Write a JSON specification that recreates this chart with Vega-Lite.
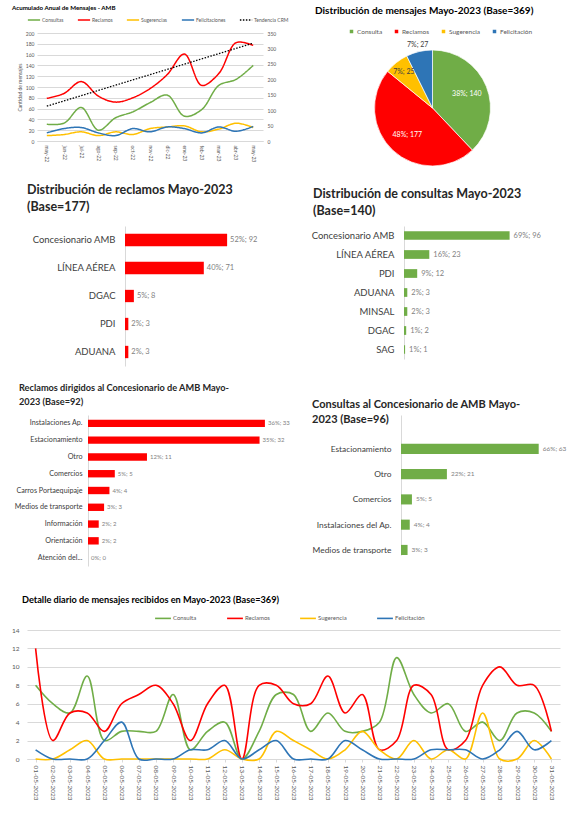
{
  "$schema": "https://vega.github.io/schema/vega-lite/v6.json",
  "padding": {"left": 0, "top": 4, "right": 0, "bottom": 0},
  "background": "white",
  "spacing": 0,
  "config": {"font": "Lato", "view": {"stroke": null}},
  "resolve": {"scale": {"color": "independent", "strokeDash": "independent"}, "legend": {"color": "independent", "strokeDash": "independent"}},
  "datasets": {
    "anual": [
      {"mes": "may-22", "serie": "Consultas", "valor": 31}, {"mes": "jun-22", "serie": "Consultas", "valor": 33}, {"mes": "jul-22", "serie": "Consultas", "valor": 62}, {"mes": "ago-22", "serie": "Consultas", "valor": 20}, {"mes": "sep-22", "serie": "Consultas", "valor": 43}, {"mes": "oct-22", "serie": "Consultas", "valor": 54}, {"mes": "nov-22", "serie": "Consultas", "valor": 71}, {"mes": "dic-22", "serie": "Consultas", "valor": 85}, {"mes": "ene-23", "serie": "Consultas", "valor": 46}, {"mes": "feb-23", "serie": "Consultas", "valor": 58}, {"mes": "mar-23", "serie": "Consultas", "valor": 103}, {"mes": "abr-23", "serie": "Consultas", "valor": 114}, {"mes": "may-23", "serie": "Consultas", "valor": 140},
      {"mes": "may-22", "serie": "Reclamos", "valor": 79}, {"mes": "jun-22", "serie": "Reclamos", "valor": 88}, {"mes": "jul-22", "serie": "Reclamos", "valor": 110}, {"mes": "ago-22", "serie": "Reclamos", "valor": 83}, {"mes": "sep-22", "serie": "Reclamos", "valor": 72}, {"mes": "oct-22", "serie": "Reclamos", "valor": 80}, {"mes": "nov-22", "serie": "Reclamos", "valor": 97}, {"mes": "dic-22", "serie": "Reclamos", "valor": 123}, {"mes": "ene-23", "serie": "Reclamos", "valor": 161}, {"mes": "feb-23", "serie": "Reclamos", "valor": 103}, {"mes": "mar-23", "serie": "Reclamos", "valor": 125}, {"mes": "abr-23", "serie": "Reclamos", "valor": 182}, {"mes": "may-23", "serie": "Reclamos", "valor": 177},
      {"mes": "may-22", "serie": "Sugerencias", "valor": 10}, {"mes": "jun-22", "serie": "Sugerencias", "valor": 12}, {"mes": "jul-22", "serie": "Sugerencias", "valor": 17}, {"mes": "ago-22", "serie": "Sugerencias", "valor": 10}, {"mes": "sep-22", "serie": "Sugerencias", "valor": 17}, {"mes": "oct-22", "serie": "Sugerencias", "valor": 12}, {"mes": "nov-22", "serie": "Sugerencias", "valor": 23}, {"mes": "dic-22", "serie": "Sugerencias", "valor": 26}, {"mes": "ene-23", "serie": "Sugerencias", "valor": 28}, {"mes": "feb-23", "serie": "Sugerencias", "valor": 17}, {"mes": "mar-23", "serie": "Sugerencias", "valor": 22}, {"mes": "abr-23", "serie": "Sugerencias", "valor": 33}, {"mes": "may-23", "serie": "Sugerencias", "valor": 25},
      {"mes": "may-22", "serie": "Felicitaciones", "valor": 15}, {"mes": "jun-22", "serie": "Felicitaciones", "valor": 23}, {"mes": "jul-22", "serie": "Felicitaciones", "valor": 25}, {"mes": "ago-22", "serie": "Felicitaciones", "valor": 15}, {"mes": "sep-22", "serie": "Felicitaciones", "valor": 10}, {"mes": "oct-22", "serie": "Felicitaciones", "valor": 23}, {"mes": "nov-22", "serie": "Felicitaciones", "valor": 17}, {"mes": "dic-22", "serie": "Felicitaciones", "valor": 26}, {"mes": "ene-23", "serie": "Felicitaciones", "valor": 23}, {"mes": "feb-23", "serie": "Felicitaciones", "valor": 15}, {"mes": "mar-23", "serie": "Felicitaciones", "valor": 26}, {"mes": "abr-23", "serie": "Felicitaciones", "valor": 18}, {"mes": "may-23", "serie": "Felicitaciones", "valor": 27}
    ],
    "tendencia": [
      {"mes": "may-22", "serie": "Tendencia CRM", "valor": 113},
      {"mes": "may-23", "serie": "Tendencia CRM", "valor": 317}
    ],
    "pie": [
      {"cat": "Consulta", "orden": 1, "n": 140, "label": "38%; 140"},
      {"cat": "Reclamos", "orden": 2, "n": 177, "label": "48%; 177"},
      {"cat": "Sugerencia", "orden": 3, "n": 25, "label": "7%; 25"},
      {"cat": "Felicitación", "orden": 4, "n": 27, "label": "7%; 27"}
    ],
    "reclamos": [
      {"cat": "Concesionario AMB", "n": 92, "label": "52%; 92"},
      {"cat": "LÍNEA AÉREA", "n": 71, "label": "40%; 71"},
      {"cat": "DGAC", "n": 8, "label": "5%; 8"},
      {"cat": "PDI", "n": 3, "label": "2%; 3"},
      {"cat": "ADUANA", "n": 3, "label": "2%, 3"}
    ],
    "consultas": [
      {"cat": "Concesionario AMB", "n": 96, "label": "69%; 96"},
      {"cat": "LÍNEA AÉREA", "n": 23, "label": "16%; 23"},
      {"cat": "PDI", "n": 12, "label": "9%; 12"},
      {"cat": "ADUANA", "n": 3, "label": "2%; 3"},
      {"cat": "MINSAL", "n": 3, "label": "2%; 3"},
      {"cat": "DGAC", "n": 2, "label": "1%; 2"},
      {"cat": "SAG", "n": 1, "label": "1%; 1"}
    ],
    "reclamosAMB": [
      {"cat": "Instalaciones Ap.", "n": 33, "label": "36%; 33"},
      {"cat": "Estacionamiento", "n": 32, "label": "35%; 32"},
      {"cat": "Otro", "n": 11, "label": "12%; 11"},
      {"cat": "Comercios", "n": 5, "label": "5%; 5"},
      {"cat": "Carros Portaequipaje", "n": 4, "label": "4%; 4"},
      {"cat": "Medios de transporte", "n": 3, "label": "3%; 3"},
      {"cat": "Información", "n": 2, "label": "2%; 2"},
      {"cat": "Orientación", "n": 2, "label": "2%; 2"},
      {"cat": "Atención del...", "n": 0, "label": "0%; 0"}
    ],
    "consultasAMB": [
      {"cat": "Estacionamiento", "n": 63, "label": "66%; 63"},
      {"cat": "Otro", "n": 21, "label": "22%; 21"},
      {"cat": "Comercios", "n": 5, "label": "5%; 5"},
      {"cat": "Instalaciones del Ap.", "n": 4, "label": "4%; 4"},
      {"cat": "Medios de transporte", "n": 3, "label": "3%; 3"}
    ],
    "diario": [
      {"fecha": "01-05-2023", "serie": "Consulta", "valor": 8}, {"fecha": "02-05-2023", "serie": "Consulta", "valor": 6}, {"fecha": "03-05-2023", "serie": "Consulta", "valor": 5}, {"fecha": "04-05-2023", "serie": "Consulta", "valor": 9}, {"fecha": "05-05-2023", "serie": "Consulta", "valor": 2}, {"fecha": "06-05-2023", "serie": "Consulta", "valor": 3}, {"fecha": "07-05-2023", "serie": "Consulta", "valor": 3}, {"fecha": "08-05-2023", "serie": "Consulta", "valor": 3}, {"fecha": "09-05-2023", "serie": "Consulta", "valor": 7}, {"fecha": "10-05-2023", "serie": "Consulta", "valor": 1}, {"fecha": "11-05-2023", "serie": "Consulta", "valor": 3}, {"fecha": "12-05-2023", "serie": "Consulta", "valor": 4}, {"fecha": "13-05-2023", "serie": "Consulta", "valor": 0}, {"fecha": "14-05-2023", "serie": "Consulta", "valor": 3}, {"fecha": "15-05-2023", "serie": "Consulta", "valor": 7}, {"fecha": "16-05-2023", "serie": "Consulta", "valor": 7}, {"fecha": "17-05-2023", "serie": "Consulta", "valor": 3}, {"fecha": "18-05-2023", "serie": "Consulta", "valor": 5}, {"fecha": "19-05-2023", "serie": "Consulta", "valor": 3}, {"fecha": "20-05-2023", "serie": "Consulta", "valor": 3}, {"fecha": "21-05-2023", "serie": "Consulta", "valor": 4}, {"fecha": "22-05-2023", "serie": "Consulta", "valor": 11}, {"fecha": "23-05-2023", "serie": "Consulta", "valor": 7}, {"fecha": "24-05-2023", "serie": "Consulta", "valor": 5}, {"fecha": "25-05-2023", "serie": "Consulta", "valor": 6}, {"fecha": "26-05-2023", "serie": "Consulta", "valor": 3}, {"fecha": "27-05-2023", "serie": "Consulta", "valor": 4}, {"fecha": "28-05-2023", "serie": "Consulta", "valor": 2}, {"fecha": "29-05-2023", "serie": "Consulta", "valor": 5}, {"fecha": "30-05-2023", "serie": "Consulta", "valor": 5}, {"fecha": "31-05-2023", "serie": "Consulta", "valor": 3},
      {"fecha": "01-05-2023", "serie": "Reclamos", "valor": 12}, {"fecha": "02-05-2023", "serie": "Reclamos", "valor": 2}, {"fecha": "03-05-2023", "serie": "Reclamos", "valor": 5}, {"fecha": "04-05-2023", "serie": "Reclamos", "valor": 5}, {"fecha": "05-05-2023", "serie": "Reclamos", "valor": 3}, {"fecha": "06-05-2023", "serie": "Reclamos", "valor": 6}, {"fecha": "07-05-2023", "serie": "Reclamos", "valor": 7}, {"fecha": "08-05-2023", "serie": "Reclamos", "valor": 8}, {"fecha": "09-05-2023", "serie": "Reclamos", "valor": 6}, {"fecha": "10-05-2023", "serie": "Reclamos", "valor": 2}, {"fecha": "11-05-2023", "serie": "Reclamos", "valor": 6}, {"fecha": "12-05-2023", "serie": "Reclamos", "valor": 8}, {"fecha": "13-05-2023", "serie": "Reclamos", "valor": 0}, {"fecha": "14-05-2023", "serie": "Reclamos", "valor": 8}, {"fecha": "15-05-2023", "serie": "Reclamos", "valor": 8}, {"fecha": "16-05-2023", "serie": "Reclamos", "valor": 6}, {"fecha": "17-05-2023", "serie": "Reclamos", "valor": 6}, {"fecha": "18-05-2023", "serie": "Reclamos", "valor": 9}, {"fecha": "19-05-2023", "serie": "Reclamos", "valor": 5}, {"fecha": "20-05-2023", "serie": "Reclamos", "valor": 7}, {"fecha": "21-05-2023", "serie": "Reclamos", "valor": 1}, {"fecha": "22-05-2023", "serie": "Reclamos", "valor": 2}, {"fecha": "23-05-2023", "serie": "Reclamos", "valor": 8}, {"fecha": "24-05-2023", "serie": "Reclamos", "valor": 7}, {"fecha": "25-05-2023", "serie": "Reclamos", "valor": 1}, {"fecha": "26-05-2023", "serie": "Reclamos", "valor": 2}, {"fecha": "27-05-2023", "serie": "Reclamos", "valor": 8}, {"fecha": "28-05-2023", "serie": "Reclamos", "valor": 10}, {"fecha": "29-05-2023", "serie": "Reclamos", "valor": 8}, {"fecha": "30-05-2023", "serie": "Reclamos", "valor": 8}, {"fecha": "31-05-2023", "serie": "Reclamos", "valor": 3},
      {"fecha": "01-05-2023", "serie": "Sugerencia", "valor": 0}, {"fecha": "02-05-2023", "serie": "Sugerencia", "valor": 0}, {"fecha": "03-05-2023", "serie": "Sugerencia", "valor": 1}, {"fecha": "04-05-2023", "serie": "Sugerencia", "valor": 2}, {"fecha": "05-05-2023", "serie": "Sugerencia", "valor": 0}, {"fecha": "06-05-2023", "serie": "Sugerencia", "valor": 0}, {"fecha": "07-05-2023", "serie": "Sugerencia", "valor": 0}, {"fecha": "08-05-2023", "serie": "Sugerencia", "valor": 0}, {"fecha": "09-05-2023", "serie": "Sugerencia", "valor": 0}, {"fecha": "10-05-2023", "serie": "Sugerencia", "valor": 0}, {"fecha": "11-05-2023", "serie": "Sugerencia", "valor": 0}, {"fecha": "12-05-2023", "serie": "Sugerencia", "valor": 1}, {"fecha": "13-05-2023", "serie": "Sugerencia", "valor": 0}, {"fecha": "14-05-2023", "serie": "Sugerencia", "valor": 0}, {"fecha": "15-05-2023", "serie": "Sugerencia", "valor": 3}, {"fecha": "16-05-2023", "serie": "Sugerencia", "valor": 2}, {"fecha": "17-05-2023", "serie": "Sugerencia", "valor": 1}, {"fecha": "18-05-2023", "serie": "Sugerencia", "valor": 0}, {"fecha": "19-05-2023", "serie": "Sugerencia", "valor": 1}, {"fecha": "20-05-2023", "serie": "Sugerencia", "valor": 3}, {"fecha": "21-05-2023", "serie": "Sugerencia", "valor": 1}, {"fecha": "22-05-2023", "serie": "Sugerencia", "valor": 0}, {"fecha": "23-05-2023", "serie": "Sugerencia", "valor": 2}, {"fecha": "24-05-2023", "serie": "Sugerencia", "valor": 0}, {"fecha": "25-05-2023", "serie": "Sugerencia", "valor": 1}, {"fecha": "26-05-2023", "serie": "Sugerencia", "valor": 0}, {"fecha": "27-05-2023", "serie": "Sugerencia", "valor": 5}, {"fecha": "28-05-2023", "serie": "Sugerencia", "valor": 0}, {"fecha": "29-05-2023", "serie": "Sugerencia", "valor": 0}, {"fecha": "30-05-2023", "serie": "Sugerencia", "valor": 2}, {"fecha": "31-05-2023", "serie": "Sugerencia", "valor": 0},
      {"fecha": "01-05-2023", "serie": "Felicitación", "valor": 1}, {"fecha": "02-05-2023", "serie": "Felicitación", "valor": 0}, {"fecha": "03-05-2023", "serie": "Felicitación", "valor": 0}, {"fecha": "04-05-2023", "serie": "Felicitación", "valor": 0}, {"fecha": "05-05-2023", "serie": "Felicitación", "valor": 2}, {"fecha": "06-05-2023", "serie": "Felicitación", "valor": 4}, {"fecha": "07-05-2023", "serie": "Felicitación", "valor": 0}, {"fecha": "08-05-2023", "serie": "Felicitación", "valor": 0}, {"fecha": "09-05-2023", "serie": "Felicitación", "valor": 0}, {"fecha": "10-05-2023", "serie": "Felicitación", "valor": 1}, {"fecha": "11-05-2023", "serie": "Felicitación", "valor": 1}, {"fecha": "12-05-2023", "serie": "Felicitación", "valor": 2}, {"fecha": "13-05-2023", "serie": "Felicitación", "valor": 0}, {"fecha": "14-05-2023", "serie": "Felicitación", "valor": 1}, {"fecha": "15-05-2023", "serie": "Felicitación", "valor": 2}, {"fecha": "16-05-2023", "serie": "Felicitación", "valor": 0}, {"fecha": "17-05-2023", "serie": "Felicitación", "valor": 0}, {"fecha": "18-05-2023", "serie": "Felicitación", "valor": 0}, {"fecha": "19-05-2023", "serie": "Felicitación", "valor": 2}, {"fecha": "20-05-2023", "serie": "Felicitación", "valor": 1}, {"fecha": "21-05-2023", "serie": "Felicitación", "valor": 0}, {"fecha": "22-05-2023", "serie": "Felicitación", "valor": 0}, {"fecha": "23-05-2023", "serie": "Felicitación", "valor": 0}, {"fecha": "24-05-2023", "serie": "Felicitación", "valor": 1}, {"fecha": "25-05-2023", "serie": "Felicitación", "valor": 1}, {"fecha": "26-05-2023", "serie": "Felicitación", "valor": 1}, {"fecha": "27-05-2023", "serie": "Felicitación", "valor": 0}, {"fecha": "28-05-2023", "serie": "Felicitación", "valor": 1}, {"fecha": "29-05-2023", "serie": "Felicitación", "valor": 3}, {"fecha": "30-05-2023", "serie": "Felicitación", "valor": 1}, {"fecha": "31-05-2023", "serie": "Felicitación", "valor": 2}
    ]
  },
  "vconcat": [
    {
      "spacing": 0, "bounds": "flush",
      "resolve": {"scale": {"color": "independent", "strokeDash": "independent"}, "legend": {"color": "independent", "strokeDash": "independent"}},
      "hconcat": [
        {"width": 37, "height": 150, "data": {"values": []}, "mark": "point"},
        {
          "width": 226, "height": 108,
          "title": {"text": "Acumulado Anual de Mensajes - AMB", "fontSize": 6.2, "fontWeight": "bold", "color": "#000000", "anchor": "start", "frame": "group", "dx": -25, "offset": 2},
          "layer": [
            {
              "data": {"name": "anual"},
              "mark": {"type": "line", "interpolate": "catmull-rom", "strokeWidth": 1.5},
              "encoding": {
                "x": {"field": "mes", "type": "ordinal", "sort": ["may-22","jun-22","jul-22","ago-22","sep-22","oct-22","nov-22","dic-22","ene-23","feb-23","mar-23","abr-23","may-23"], "scale": {"type": "point", "padding": 0.57}, "axis": {"title": null, "labelAngle": 90, "labelFontSize": 5, "labelColor": "#595959", "domainColor": "#D9D9D9", "ticks": false, "labelPadding": 4}},
                "y": {"field": "valor", "type": "quantitative", "scale": {"domain": [0, 200], "nice": false}, "axis": {"values": [0,20,40,60,80,100,120,140,160,180,200], "title": "Cantidad de mensajes", "titleFontSize": 5, "titleFontWeight": "normal", "titleColor": "#595959", "labelFontSize": 5, "labelColor": "#595959", "domain": false, "ticks": false, "gridColor": "#D9D9D9", "labelPadding": 3, "titlePadding": 3}},
                "color": {"field": "serie", "type": "nominal", "scale": {"domain": ["Consultas","Reclamos","Sugerencias","Felicitaciones","Tendencia CRM"], "range": ["#70AD47","#FF0000","#FFC000","#2E75B6","#000000"]}, "legend": {"title": null, "orient": "none", "legendX": -10, "legendY": -20, "direction": "horizontal", "symbolType": "stroke", "symbolStrokeWidth": 1.5, "symbolSize": 150, "labelFontSize": 5, "labelColor": "#595959", "columnPadding": 10, "labelOffset": 1}},
                "strokeDash": {"field": "serie", "type": "nominal", "scale": {"domain": ["Consultas","Reclamos","Sugerencias","Felicitaciones","Tendencia CRM"], "range": [[1,0],[1,0],[1,0],[1,0],[1.5,1.5]]}, "legend": {"title": null, "orient": "none", "legendX": -10, "legendY": -20, "direction": "horizontal", "symbolType": "stroke", "symbolStrokeWidth": 1.5, "symbolSize": 150, "labelFontSize": 5, "labelColor": "#595959", "columnPadding": 10, "labelOffset": 1}}
              }
            },
            {
              "data": {"name": "tendencia"},
              "mark": {"type": "line", "strokeWidth": 1.3},
              "encoding": {
                "x": {"field": "mes", "type": "ordinal", "sort": ["may-22","jun-22","jul-22","ago-22","sep-22","oct-22","nov-22","dic-22","ene-23","feb-23","mar-23","abr-23","may-23"]},
                "y": {"field": "valor", "type": "quantitative", "scale": {"domain": [0, 350], "nice": false}, "axis": {"orient": "right", "values": [0,50,100,150,200,250,300,350], "title": null, "labelFontSize": 5, "labelColor": "#595959", "domain": false, "ticks": false, "grid": false, "labelPadding": 4}},
                "color": {"field": "serie", "type": "nominal"},
                "strokeDash": {"field": "serie", "type": "nominal"}
              }
            }
          ],
          "resolve": {"scale": {"y": "independent"}}
        },
        {"width": 42, "height": 1, "data": {"values": []}, "mark": "point"},
        {
          "width": 255, "height": 150,
          "title": {"text": "Distribución de mensajes Mayo-2023 (Base=369)", "fontSize": 10, "fontWeight": "bold", "color": "#000000", "anchor": "start", "frame": "group", "dx": 10, "offset": 12},
          "data": {"name": "pie"},
          "encoding": {
            "theta": {"field": "n", "type": "quantitative", "stack": true},
            "order": {"field": "orden", "type": "quantitative"}
          },
          "layer": [
            {
              "mark": {"type": "arc", "radius": 58, "stroke": "#ffffff", "strokeWidth": 0.7},
              "encoding": {
                "color": {"field": "cat", "type": "nominal", "scale": {"domain": ["Consulta","Reclamos","Sugerencia","Felicitación"], "range": ["#70AD47","#FF0000","#FFC000","#2E75B6"]}, "legend": {"title": null, "orient": "none", "legendX": 43, "legendY": -5, "direction": "horizontal", "symbolType": "square", "symbolSize": 25, "labelFontSize": 6.5, "labelColor": "#595959", "columnPadding": 8, "labelOffset": 2}}
              }
            },
            {
              "mark": {"type": "text", "radius": 37, "fontSize": 7, "fill": "#ffffff"},
              "encoding": {"text": {"condition": {"test": "datum.cat === 'Consulta' || datum.cat === 'Reclamos'", "field": "label"}, "value": ""}}
            },
            {
              "mark": {"type": "text", "radius": 46, "fontSize": 7, "fill": "#404040"},
              "encoding": {"text": {"condition": {"test": "datum.cat === 'Sugerencia'", "field": "label"}, "value": ""}}
            },
            {
              "mark": {"type": "text", "radius": 65, "fontSize": 7, "fill": "#404040"},
              "encoding": {"text": {"condition": {"test": "datum.cat === 'Felicitación'", "field": "label"}, "value": ""}}
            }
          ]
        }
      ]
    },
    {
      "spacing": 0, "bounds": "flush",
      "hconcat": [
        {"width": 125, "height": 158, "data": {"values": []}, "mark": "point"},
        {
          "width": 111, "height": 140,
          "title": {"text": ["Distribución de reclamos  Mayo-2023", "(Base=177)"], "fontSize": 12.5, "lineHeight": 17, "fontWeight": "bold", "color": "#262626", "anchor": "start", "frame": "group", "dx": -98, "offset": 13},
          "data": {"name": "reclamos"},
          "encoding": {
            "y": {"field": "cat", "type": "nominal", "sort": null, "scale": {"paddingInner": 0.56, "paddingOuter": 0.28}, "axis": {"title": null, "labelFontSize": 9.5, "labelColor": "#404040", "ticks": false, "domainColor": "#D9D9D9", "labelPadding": 10}},
            "x": {"field": "n", "type": "quantitative", "scale": {"domain": [0, 100], "nice": false}, "axis": null}
          },
          "layer": [
            {"mark": {"type": "bar", "color": "#FF0000"}},
            {"mark": {"type": "text", "align": "left", "dx": 3, "fontSize": 7.5, "color": "#7F7F7F"}, "encoding": {"text": {"field": "label"}}}
          ]
        },
        {"width": 168, "height": 1, "data": {"values": []}, "mark": "point"},
        {
          "width": 110, "height": 133,
          "title": {"text": ["Distribución de consultas Mayo-2023", "(Base=140)"], "fontSize": 12.5, "lineHeight": 17, "fontWeight": "bold", "color": "#262626", "anchor": "start", "frame": "group", "dx": -91, "dy": 4, "offset": 13},
          "data": {"name": "consultas"},
          "encoding": {
            "y": {"field": "cat", "type": "nominal", "sort": null, "scale": {"paddingInner": 0.54, "paddingOuter": 0.27}, "axis": {"title": null, "labelFontSize": 9.5, "labelColor": "#404040", "ticks": false, "domainColor": "#D9D9D9", "labelPadding": 10}},
            "x": {"field": "n", "type": "quantitative", "scale": {"domain": [0, 100], "nice": false}, "axis": null}
          },
          "layer": [
            {"mark": {"type": "bar", "color": "#70AD47"}},
            {"mark": {"type": "text", "align": "left", "dx": 4, "fontSize": 7.5, "color": "#7F7F7F"}, "encoding": {"text": {"field": "label"}}}
          ]
        }
      ]
    },
    {
      "spacing": 0, "bounds": "flush",
      "hconcat": [
        {"width": 88, "height": 180, "data": {"values": []}, "mark": "point"},
        {
          "width": 193, "height": 151,
          "title": {"text": ["Reclamos dirigidos al Concesionario de AMB Mayo-", "2023 (Base=92)"], "fontSize": 9.2, "lineHeight": 13.5, "fontWeight": "bold", "color": "#262626", "anchor": "start", "frame": "group", "dx": -69, "offset": 8},
          "data": {"name": "reclamosAMB"},
          "encoding": {
            "y": {"field": "cat", "type": "nominal", "sort": null, "scale": {"paddingInner": 0.56, "paddingOuter": 0.28}, "axis": {"title": null, "labelFontSize": 7.2, "labelColor": "#404040", "ticks": false, "domainColor": "#D9D9D9", "labelPadding": 6}},
            "x": {"field": "n", "type": "quantitative", "scale": {"domain": [0, 36], "nice": false}, "axis": null}
          },
          "layer": [
            {"mark": {"type": "bar", "color": "#FF0000"}},
            {"mark": {"type": "text", "align": "left", "dx": 3, "fontSize": 6, "color": "#7F7F7F"}, "encoding": {"text": {"field": "label"}}}
          ]
        },
        {"width": 120, "height": 1, "data": {"values": []}, "mark": "point"},
        {
          "width": 153, "height": 140,
          "title": {"text": ["Consultas al Concesionario de AMB Mayo-", "2023 (Base=96)"], "fontSize": 11, "lineHeight": 15, "fontWeight": "bold", "color": "#262626", "anchor": "start", "frame": "group", "dx": -89, "dy": 18, "offset": 8},
          "data": {"name": "consultasAMB"},
          "encoding": {
            "y": {"field": "cat", "type": "nominal", "sort": null, "scale": {"paddingInner": 0.6, "paddingOuter": 0.57, "align": 1}, "axis": {"title": null, "labelFontSize": 8.4, "labelColor": "#404040", "ticks": false, "domainColor": "#D9D9D9", "labelPadding": 10}},
            "x": {"field": "n", "type": "quantitative", "scale": {"domain": [0, 70], "nice": false}, "axis": null}
          },
          "layer": [
            {"mark": {"type": "bar", "color": "#70AD47"}},
            {"mark": {"type": "text", "align": "left", "dx": 4, "fontSize": 6.5, "color": "#7F7F7F"}, "encoding": {"text": {"field": "label"}}}
          ]
        }
      ]
    },
    {
      "spacing": 0, "bounds": "flush",
      "hconcat": [
        {"width": 27, "height": 1, "data": {"values": []}, "mark": "point"},
        {
          "width": 533, "height": 129,
          "title": {"text": "Detalle diario de mensajes recibidos en Mayo-2023 (Base=369)", "fontSize": 9.2, "fontWeight": "bold", "color": "#000000", "anchor": "start", "frame": "group", "dx": -5, "offset": 22},
          "data": {"name": "diario"},
          "mark": {"type": "line", "interpolate": "catmull-rom", "strokeWidth": 1.6},
          "encoding": {
            "x": {"field": "fecha", "type": "ordinal", "scale": {"type": "point", "padding": 0.5}, "axis": {"title": null, "labelAngle": 90, "labelFontSize": 6.5, "labelColor": "#595959", "domainColor": "#D9D9D9", "tickColor": "#D9D9D9", "tickSize": 3, "labelPadding": 3}},
            "y": {"field": "valor", "type": "quantitative", "scale": {"domain": [0, 14], "nice": false}, "axis": {"values": [0,2,4,6,8,10,12,14], "title": null, "labelFontSize": 6.5, "labelColor": "#595959", "domain": false, "ticks": false, "gridColor": "#D9D9D9", "labelPadding": 8}},
            "color": {"field": "serie", "type": "nominal", "scale": {"domain": ["Consulta","Reclamos","Sugerencia","Felicitación"], "range": ["#70AD47","#FF0000","#FFC000","#2E75B6"]}, "legend": {"title": null, "orient": "none", "legendX": 154, "legendY": -21, "direction": "horizontal", "symbolType": "stroke", "symbolStrokeWidth": 1.6, "symbolSize": 250, "labelFontSize": 6, "labelColor": "#595959", "columnPadding": 26, "labelOffset": 1}}
          }
        }
      ]
    }
  ]
}
